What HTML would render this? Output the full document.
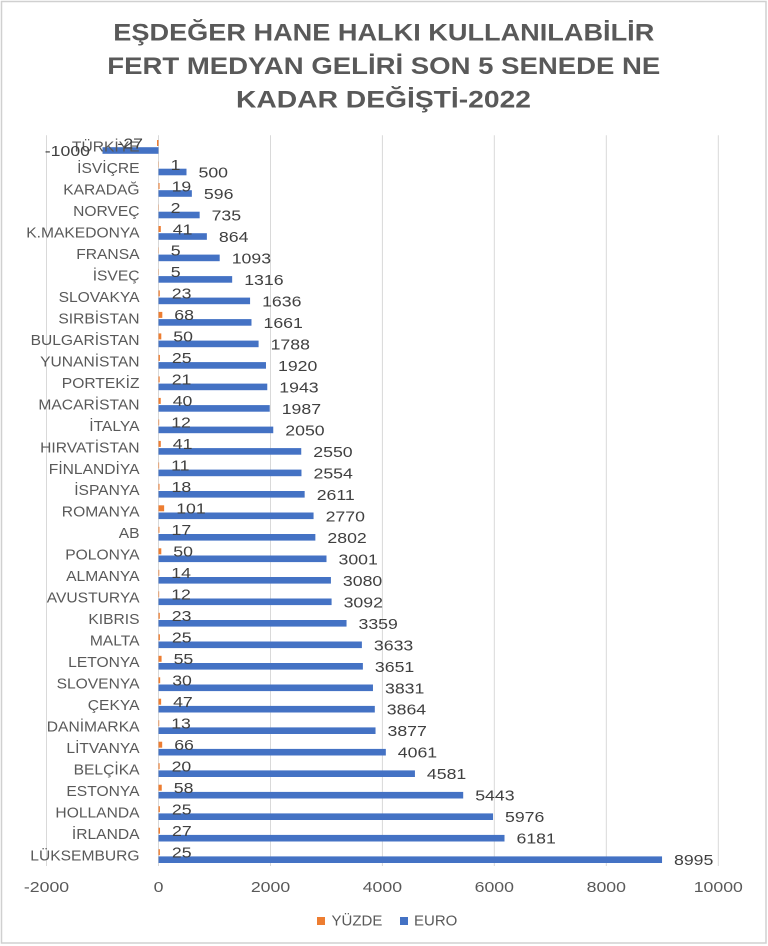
<!DOCTYPE html>
<html><head><meta charset="utf-8">
<style>
html,body{margin:0;padding:0;background:#fff;}
svg{display:block}
text{font-family:"Liberation Sans",sans-serif;}
.c{font-size:15px;fill:#595959;text-anchor:end}
.p{font-size:15px;fill:#404040}
.e{font-size:15px;fill:#404040}
.a{font-size:15px;fill:#595959;text-anchor:middle}
.o{fill:#ED7D31}
.b{fill:#4472C4}
.t{font-size:24px;font-weight:bold;fill:#595959}
</style></head>
<body>
<svg width="768" height="946" viewBox="0 0 768 946" xmlns="http://www.w3.org/2000/svg">
<rect x="0" y="0" width="768" height="946" fill="#fff"/>
<rect x="1.5" y="1.5" width="764.5" height="941.5" fill="none" stroke="#d0d0d0" stroke-width="1.5"/>

<text class="t" x="113.3" y="40.7" textLength="541" lengthAdjust="spacingAndGlyphs">EŞDEĞER HANE HALKI KULLANILABİLİR</text>
<text class="t" x="107.3" y="74" textLength="553" lengthAdjust="spacingAndGlyphs">FERT MEDYAN GELİRİ SON 5 SENEDE NE</text>
<text class="t" x="236" y="107.3" textLength="295" lengthAdjust="spacingAndGlyphs">KADAR DEĞİŞTİ-2022</text>

<g stroke="#d9d9d9" stroke-width="1">
<line x1="46.5" y1="135.3" x2="46.5" y2="866"/>
<line x1="158.5" y1="135.3" x2="158.5" y2="866"/>
<line x1="270.5" y1="135.3" x2="270.5" y2="866"/>
<line x1="382.4" y1="135.3" x2="382.4" y2="866"/>
<line x1="494.3" y1="135.3" x2="494.3" y2="866"/>
<line x1="606.3" y1="135.3" x2="606.3" y2="866"/>
<line x1="718.3" y1="135.3" x2="718.3" y2="866"/>
</g>

<!-- rows -->
<g transform="translate(0,146)">
<rect class="o" x="157" y="-6" width="1.5" height="6"/><rect class="b" x="102.5" y="1.2" width="56" height="6.6"/>
<text class="c" transform="translate(139.5,5.4) scale(1.04,1)">TÜRKİYE</text>
<text class="p" text-anchor="end" transform="translate(143,2.3) scale(1.18,1)">-27</text>
<text class="e" text-anchor="end" transform="translate(90,10) scale(1.18,1)">-1000</text>
</g>
<g transform="translate(0,167.5)">
<rect class="o" x="158.5" y="-6" width="0.3" height="6"/><rect class="b" x="158.5" y="1.2" width="28" height="6.6"/>
<text class="c" transform="translate(139.5,5.4) scale(1.04,1)">İSVİÇRE</text>
<text class="p" transform="translate(170.6,2.3) scale(1.18,1)">1</text>
<text class="e" transform="translate(198.5,10) scale(1.18,1)">500</text>
</g>
<g transform="translate(0,189)">
<rect class="o" x="158.5" y="-6" width="1.06" height="6"/><rect class="b" x="158.5" y="1.2" width="33.36" height="6.6"/>
<text class="c" transform="translate(139.5,5.4) scale(1.04,1)">KARADAĞ</text>
<text class="p" transform="translate(171.6,2.3) scale(1.18,1)">19</text>
<text class="e" transform="translate(203.9,10) scale(1.18,1)">596</text>
</g>
<g transform="translate(0,210.5)">
<rect class="o" x="158.5" y="-6" width="0.3" height="6"/><rect class="b" x="158.5" y="1.2" width="41.15" height="6.6"/>
<text class="c" transform="translate(139.5,5.4) scale(1.04,1)">NORVEÇ</text>
<text class="p" transform="translate(170.6,2.3) scale(1.18,1)">2</text>
<text class="e" transform="translate(211.6,10) scale(1.18,1)">735</text>
</g>
<g transform="translate(0,232)">
<rect class="o" x="158.5" y="-6" width="2.3" height="6"/><rect class="b" x="158.5" y="1.2" width="48.37" height="6.6"/>
<text class="c" transform="translate(139.5,5.4) scale(1.04,1)">K.MAKEDONYA</text>
<text class="p" transform="translate(172.8,2.3) scale(1.18,1)">41</text>
<text class="e" transform="translate(218.9,10) scale(1.18,1)">864</text>
</g>
<g transform="translate(0,253.4)">
<rect class="o" x="158.5" y="-6" width="0.3" height="6"/><rect class="b" x="158.5" y="1.2" width="61.19" height="6.6"/>
<text class="c" transform="translate(139.5,5.4) scale(1.04,1)">FRANSA</text>
<text class="p" transform="translate(170.8,2.3) scale(1.18,1)">5</text>
<text class="e" transform="translate(231.7,10) scale(1.18,1)">1093</text>
</g>
<g transform="translate(0,274.9)">
<rect class="o" x="158.5" y="-6" width="0.3" height="6"/><rect class="b" x="158.5" y="1.2" width="73.67" height="6.6"/>
<text class="c" transform="translate(139.5,5.4) scale(1.04,1)">İSVEÇ</text>
<text class="p" transform="translate(170.8,2.3) scale(1.18,1)">5</text>
<text class="e" transform="translate(244.2,10) scale(1.18,1)">1316</text>
</g>
<g transform="translate(0,296.4)">
<rect class="o" x="158.5" y="-6" width="1.29" height="6"/><rect class="b" x="158.5" y="1.2" width="91.58" height="6.6"/>
<text class="c" transform="translate(139.5,5.4) scale(1.04,1)">SLOVAKYA</text>
<text class="p" transform="translate(171.8,2.3) scale(1.18,1)">23</text>
<text class="e" transform="translate(262.1,10) scale(1.18,1)">1636</text>
</g>
<g transform="translate(0,317.9)">
<rect class="o" x="158.5" y="-6" width="3.81" height="6"/><rect class="b" x="158.5" y="1.2" width="92.98" height="6.6"/>
<text class="c" transform="translate(139.5,5.4) scale(1.04,1)">SIRBİSTAN</text>
<text class="p" transform="translate(174.3,2.3) scale(1.18,1)">68</text>
<text class="e" transform="translate(263.5,10) scale(1.18,1)">1661</text>
</g>
<g transform="translate(0,339.4)">
<rect class="o" x="158.5" y="-6" width="2.8" height="6"/><rect class="b" x="158.5" y="1.2" width="100.09" height="6.6"/>
<text class="c" transform="translate(139.5,5.4) scale(1.04,1)">BULGARİSTAN</text>
<text class="p" transform="translate(173.3,2.3) scale(1.18,1)">50</text>
<text class="e" transform="translate(270.6,10) scale(1.18,1)">1788</text>
</g>
<g transform="translate(0,360.9)">
<rect class="o" x="158.5" y="-6" width="1.4" height="6"/><rect class="b" x="158.5" y="1.2" width="107.48" height="6.6"/>
<text class="c" transform="translate(139.5,5.4) scale(1.04,1)">YUNANİSTAN</text>
<text class="p" transform="translate(171.9,2.3) scale(1.18,1)">25</text>
<text class="e" transform="translate(278,10) scale(1.18,1)">1920</text>
</g>
<g transform="translate(0,382.4)">
<rect class="o" x="158.5" y="-6" width="1.18" height="6"/><rect class="b" x="158.5" y="1.2" width="108.77" height="6.6"/>
<text class="c" transform="translate(139.5,5.4) scale(1.04,1)">PORTEKİZ</text>
<text class="p" transform="translate(171.7,2.3) scale(1.18,1)">21</text>
<text class="e" transform="translate(279.3,10) scale(1.18,1)">1943</text>
</g>
<g transform="translate(0,403.9)">
<rect class="o" x="158.5" y="-6" width="2.24" height="6"/><rect class="b" x="158.5" y="1.2" width="111.23" height="6.6"/>
<text class="c" transform="translate(139.5,5.4) scale(1.04,1)">MACARİSTAN</text>
<text class="p" transform="translate(172.7,2.3) scale(1.18,1)">40</text>
<text class="e" transform="translate(281.7,10) scale(1.18,1)">1987</text>
</g>
<g transform="translate(0,425.4)">
<rect class="o" x="158.5" y="-6" width="0.67" height="6"/><rect class="b" x="158.5" y="1.2" width="114.76" height="6.6"/>
<text class="c" transform="translate(139.5,5.4) scale(1.04,1)">İTALYA</text>
<text class="p" transform="translate(171.2,2.3) scale(1.18,1)">12</text>
<text class="e" transform="translate(285.3,10) scale(1.18,1)">2050</text>
</g>
<g transform="translate(0,446.9)">
<rect class="o" x="158.5" y="-6" width="2.3" height="6"/><rect class="b" x="158.5" y="1.2" width="142.75" height="6.6"/>
<text class="c" transform="translate(139.5,5.4) scale(1.04,1)">HIRVATİSTAN</text>
<text class="p" transform="translate(172.8,2.3) scale(1.18,1)">41</text>
<text class="e" transform="translate(313.3,10) scale(1.18,1)">2550</text>
</g>
<g transform="translate(0,468.4)">
<rect class="o" x="158.5" y="-6" width="0.62" height="6"/><rect class="b" x="158.5" y="1.2" width="142.97" height="6.6"/>
<text class="c" transform="translate(139.5,5.4) scale(1.04,1)">FİNLANDİYA</text>
<text class="p" transform="translate(171.1,2.3) scale(1.18,1)">11</text>
<text class="e" transform="translate(313.5,10) scale(1.18,1)">2554</text>
</g>
<g transform="translate(0,489.8)">
<rect class="o" x="158.5" y="-6" width="1.01" height="6"/><rect class="b" x="158.5" y="1.2" width="146.16" height="6.6"/>
<text class="c" transform="translate(139.5,5.4) scale(1.04,1)">İSPANYA</text>
<text class="p" transform="translate(171.5,2.3) scale(1.18,1)">18</text>
<text class="e" transform="translate(316.7,10) scale(1.18,1)">2611</text>
</g>
<g transform="translate(0,511.3)">
<rect class="o" x="158.5" y="-6" width="5.65" height="6"/><rect class="b" x="158.5" y="1.2" width="155.06" height="6.6"/>
<text class="c" transform="translate(139.5,5.4) scale(1.04,1)">ROMANYA</text>
<text class="p" transform="translate(176.2,2.3) scale(1.18,1)">101</text>
<text class="e" transform="translate(325.6,10) scale(1.18,1)">2770</text>
</g>
<g transform="translate(0,532.8)">
<rect class="o" x="158.5" y="-6" width="0.95" height="6"/><rect class="b" x="158.5" y="1.2" width="156.86" height="6.6"/>
<text class="c" transform="translate(139.5,5.4) scale(1.04,1)">AB</text>
<text class="p" transform="translate(171.5,2.3) scale(1.18,1)">17</text>
<text class="e" transform="translate(327.4,10) scale(1.18,1)">2802</text>
</g>
<g transform="translate(0,554.3)">
<rect class="o" x="158.5" y="-6" width="2.8" height="6"/><rect class="b" x="158.5" y="1.2" width="168" height="6.6"/>
<text class="c" transform="translate(139.5,5.4) scale(1.04,1)">POLONYA</text>
<text class="p" transform="translate(173.3,2.3) scale(1.18,1)">50</text>
<text class="e" transform="translate(338.5,10) scale(1.18,1)">3001</text>
</g>
<g transform="translate(0,575.8)">
<rect class="o" x="158.5" y="-6" width="0.78" height="6"/><rect class="b" x="158.5" y="1.2" width="172.42" height="6.6"/>
<text class="c" transform="translate(139.5,5.4) scale(1.04,1)">ALMANYA</text>
<text class="p" transform="translate(171.3,2.3) scale(1.18,1)">14</text>
<text class="e" transform="translate(342.9,10) scale(1.18,1)">3080</text>
</g>
<g transform="translate(0,597.3)">
<rect class="o" x="158.5" y="-6" width="0.67" height="6"/><rect class="b" x="158.5" y="1.2" width="173.09" height="6.6"/>
<text class="c" transform="translate(139.5,5.4) scale(1.04,1)">AVUSTURYA</text>
<text class="p" transform="translate(171.2,2.3) scale(1.18,1)">12</text>
<text class="e" transform="translate(343.6,10) scale(1.18,1)">3092</text>
</g>
<g transform="translate(0,618.8)">
<rect class="o" x="158.5" y="-6" width="1.29" height="6"/><rect class="b" x="158.5" y="1.2" width="188.04" height="6.6"/>
<text class="c" transform="translate(139.5,5.4) scale(1.04,1)">KIBRIS</text>
<text class="p" transform="translate(171.8,2.3) scale(1.18,1)">23</text>
<text class="e" transform="translate(358.5,10) scale(1.18,1)">3359</text>
</g>
<g transform="translate(0,640.3)">
<rect class="o" x="158.5" y="-6" width="1.4" height="6"/><rect class="b" x="158.5" y="1.2" width="203.38" height="6.6"/>
<text class="c" transform="translate(139.5,5.4) scale(1.04,1)">MALTA</text>
<text class="p" transform="translate(171.9,2.3) scale(1.18,1)">25</text>
<text class="e" transform="translate(373.9,10) scale(1.18,1)">3633</text>
</g>
<g transform="translate(0,661.8)">
<rect class="o" x="158.5" y="-6" width="3.08" height="6"/><rect class="b" x="158.5" y="1.2" width="204.38" height="6.6"/>
<text class="c" transform="translate(139.5,5.4) scale(1.04,1)">LETONYA</text>
<text class="p" transform="translate(173.6,2.3) scale(1.18,1)">55</text>
<text class="e" transform="translate(374.9,10) scale(1.18,1)">3651</text>
</g>
<g transform="translate(0,683.3)">
<rect class="o" x="158.5" y="-6" width="1.68" height="6"/><rect class="b" x="158.5" y="1.2" width="214.46" height="6.6"/>
<text class="c" transform="translate(139.5,5.4) scale(1.04,1)">SLOVENYA</text>
<text class="p" transform="translate(172.2,2.3) scale(1.18,1)">30</text>
<text class="e" transform="translate(385,10) scale(1.18,1)">3831</text>
</g>
<g transform="translate(0,704.7)">
<rect class="o" x="158.5" y="-6" width="2.63" height="6"/><rect class="b" x="158.5" y="1.2" width="216.31" height="6.6"/>
<text class="c" transform="translate(139.5,5.4) scale(1.04,1)">ÇEKYA</text>
<text class="p" transform="translate(173.1,2.3) scale(1.18,1)">47</text>
<text class="e" transform="translate(386.8,10) scale(1.18,1)">3864</text>
</g>
<g transform="translate(0,726.2)">
<rect class="o" x="158.5" y="-6" width="0.73" height="6"/><rect class="b" x="158.5" y="1.2" width="217.03" height="6.6"/>
<text class="c" transform="translate(139.5,5.4) scale(1.04,1)">DANİMARKA</text>
<text class="p" transform="translate(171.2,2.3) scale(1.18,1)">13</text>
<text class="e" transform="translate(387.5,10) scale(1.18,1)">3877</text>
</g>
<g transform="translate(0,747.7)">
<rect class="o" x="158.5" y="-6" width="3.69" height="6"/><rect class="b" x="158.5" y="1.2" width="227.33" height="6.6"/>
<text class="c" transform="translate(139.5,5.4) scale(1.04,1)">LİTVANYA</text>
<text class="p" transform="translate(174.2,2.3) scale(1.18,1)">66</text>
<text class="e" transform="translate(397.8,10) scale(1.18,1)">4061</text>
</g>
<g transform="translate(0,769.2)">
<rect class="o" x="158.5" y="-6" width="1.12" height="6"/><rect class="b" x="158.5" y="1.2" width="256.44" height="6.6"/>
<text class="c" transform="translate(139.5,5.4) scale(1.04,1)">BELÇİKA</text>
<text class="p" transform="translate(171.6,2.3) scale(1.18,1)">20</text>
<text class="e" transform="translate(426.9,10) scale(1.18,1)">4581</text>
</g>
<g transform="translate(0,790.7)">
<rect class="o" x="158.5" y="-6" width="3.25" height="6"/><rect class="b" x="158.5" y="1.2" width="304.7" height="6.6"/>
<text class="c" transform="translate(139.5,5.4) scale(1.04,1)">ESTONYA</text>
<text class="p" transform="translate(173.8,2.3) scale(1.18,1)">58</text>
<text class="e" transform="translate(475.2,10) scale(1.18,1)">5443</text>
</g>
<g transform="translate(0,812.2)">
<rect class="o" x="158.5" y="-6" width="1.4" height="6"/><rect class="b" x="158.5" y="1.2" width="334.54" height="6.6"/>
<text class="c" transform="translate(139.5,5.4) scale(1.04,1)">HOLLANDA</text>
<text class="p" transform="translate(171.9,2.3) scale(1.18,1)">25</text>
<text class="e" transform="translate(505,10) scale(1.18,1)">5976</text>
</g>
<g transform="translate(0,833.7)">
<rect class="o" x="158.5" y="-6" width="1.51" height="6"/><rect class="b" x="158.5" y="1.2" width="346.01" height="6.6"/>
<text class="c" transform="translate(139.5,5.4) scale(1.04,1)">İRLANDA</text>
<text class="p" transform="translate(172,2.3) scale(1.18,1)">27</text>
<text class="e" transform="translate(516.5,10) scale(1.18,1)">6181</text>
</g>
<g transform="translate(0,855.2)">
<rect class="o" x="158.5" y="-6" width="1.4" height="6"/><rect class="b" x="158.5" y="1.2" width="503.54" height="6.6"/>
<text class="c" transform="translate(139.5,5.4) scale(1.04,1)">LÜKSEMBURG</text>
<text class="p" transform="translate(171.9,2.3) scale(1.18,1)">25</text>
<text class="e" transform="translate(674,10) scale(1.18,1)">8995</text>
</g>

<!-- x axis labels -->
<text class="a" transform="translate(46.5,892) scale(1.18,1)">-2000</text>
<text class="a" transform="translate(158.5,892) scale(1.18,1)">0</text>
<text class="a" transform="translate(270.5,892) scale(1.18,1)">2000</text>
<text class="a" transform="translate(382.4,892) scale(1.18,1)">4000</text>
<text class="a" transform="translate(494.3,892) scale(1.18,1)">6000</text>
<text class="a" transform="translate(606.3,892) scale(1.18,1)">8000</text>
<text class="a" transform="translate(718.3,892) scale(1.18,1)">10000</text>

<!-- legend -->
<rect class="o" x="317" y="917" width="8" height="8"/>
<text x="331.5" y="925.5" font-size="15" fill="#595959">YÜZDE</text>
<rect class="b" x="400" y="917" width="8" height="8"/>
<text x="414" y="925.5" font-size="15" fill="#595959">EURO</text>
</svg>
</body></html>
